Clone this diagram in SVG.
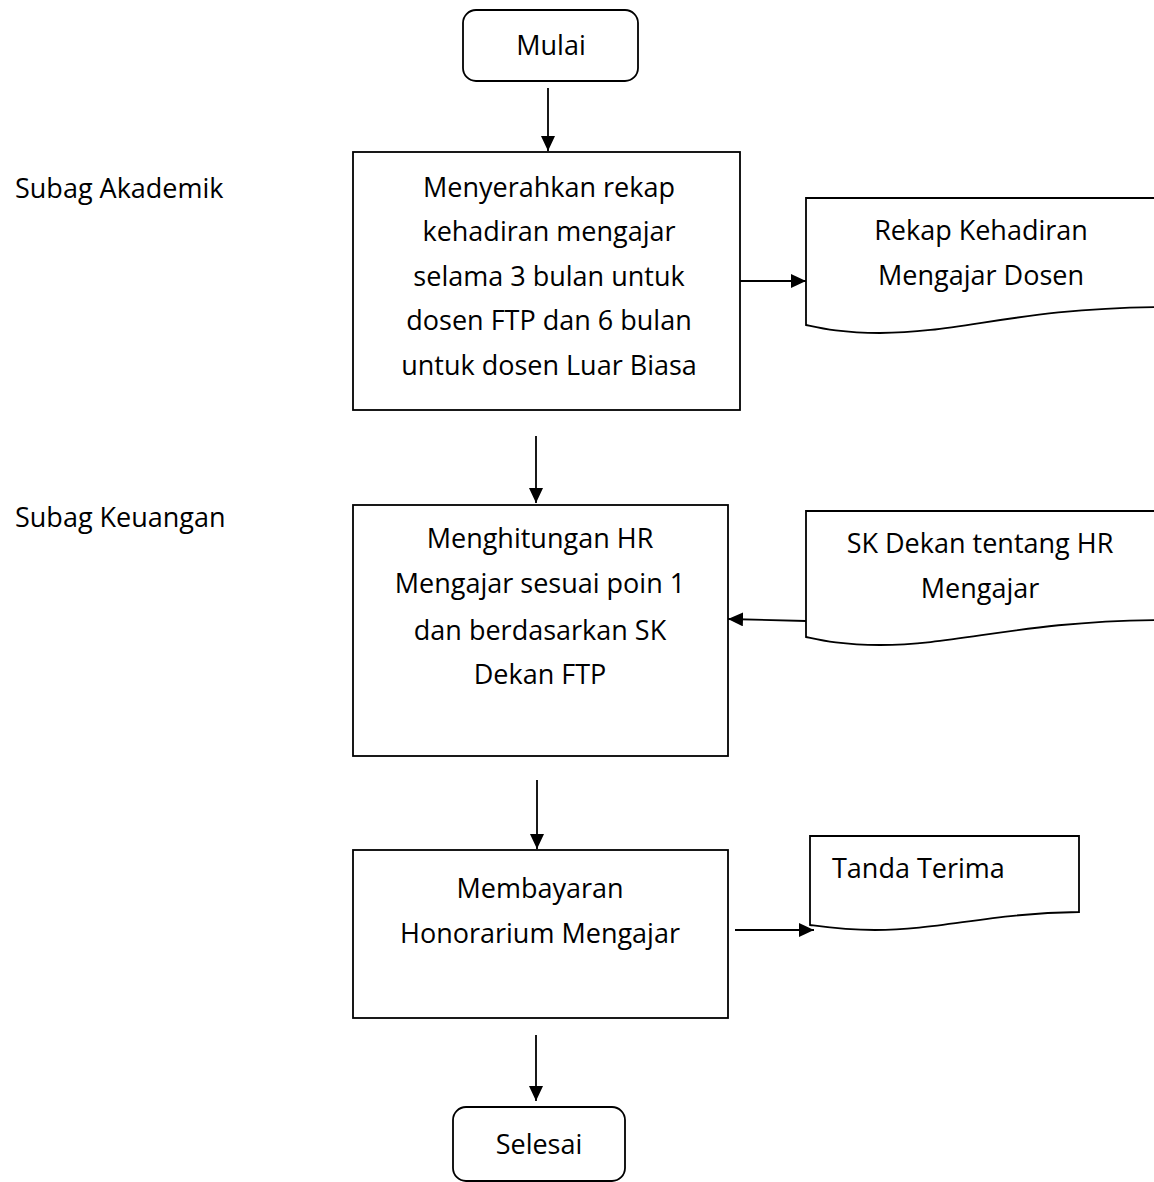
<svg xmlns="http://www.w3.org/2000/svg" width="1154" height="1182" viewBox="0 0 1154 1182">
  <style>
    .shape { fill: #ffffff; stroke: #000000; stroke-width: 1.8; }
    .line { fill: none; stroke: #000000; stroke-width: 1.8; }
    text { font-family: "Open Sans", "Noto Sans", sans-serif; font-size: 27px; fill: #000000; }
    .c { text-anchor: middle; }
  </style>
  <defs>
    <marker id="arrow" viewBox="0 0 15 14" refX="15" refY="7" markerWidth="15" markerHeight="14" markerUnits="userSpaceOnUse" orient="auto">
      <path d="M0,0 L15,7 L0,14 Z" fill="#000000"/>
    </marker>
  </defs>

  <!-- lane labels -->
  <g id="lane-akademik"><text x="15" y="198">Subag Akademik</text></g>
  <g id="lane-keuangan"><text x="15" y="527">Subag Keuangan</text></g>

  <!-- connectors -->
  <g id="connectors">
    <line class="line" x1="548" y1="88" x2="548" y2="151" marker-end="url(#arrow)"/>
    <line class="line" x1="740" y1="281" x2="806" y2="281" marker-end="url(#arrow)"/>
    <line class="line" x1="536" y1="436" x2="536" y2="503" marker-end="url(#arrow)"/>
    <line class="line" x1="806" y1="621" x2="728" y2="619" marker-end="url(#arrow)"/>
    <line class="line" x1="537" y1="780" x2="537" y2="849" marker-end="url(#arrow)"/>
    <line class="line" x1="735" y1="930" x2="814" y2="930" marker-end="url(#arrow)"/>
    <line class="line" x1="536" y1="1035" x2="536" y2="1101" marker-end="url(#arrow)"/>
  </g>

  <g id="start">
    <rect class="shape" x="463" y="10" width="175" height="71" rx="13"/>
    <text class="c" x="551" y="55">Mulai</text>
  </g>

  <g id="step-rekap">
    <rect class="shape" x="353" y="152" width="387" height="258"/>
    <text class="c" x="549" y="197">Menyerahkan rekap</text>
    <text class="c" x="549" y="241">kehadiran mengajar</text>
    <text class="c" x="549" y="286">selama 3 bulan untuk</text>
    <text class="c" x="549" y="330">dosen FTP dan 6 bulan</text>
    <text class="c" x="549" y="375">untuk dosen Luar Biasa</text>
  </g>

  <g id="doc-rekap">
    <path class="shape" d="M806,198 L1160,198 L1160,307 C1020,308 960,333 880,333 C840,333 820,328 806,325 Z"/>
    <text class="c" x="981" y="240">Rekap Kehadiran</text>
    <text class="c" x="981" y="285">Mengajar Dosen</text>
  </g>

  <g id="step-hitung">
    <rect class="shape" x="353" y="505" width="375" height="251"/>
    <text class="c" x="540" y="548">Menghitungan HR</text>
    <text class="c" x="540" y="593">Mengajar sesuai poin 1</text>
    <text class="c" x="540" y="640">dan berdasarkan SK</text>
    <text class="c" x="540" y="684">Dekan FTP</text>
  </g>

  <g id="doc-sk">
    <path class="shape" d="M806,511 L1160,511 L1160,620 C1020,621 960,645 880,645 C840,645 820,640 806,637 Z"/>
    <text class="c" x="980" y="553">SK Dekan tentang HR</text>
    <text class="c" x="980" y="598">Mengajar</text>
  </g>

  <g id="step-bayar">
    <rect class="shape" x="353" y="850" width="375" height="168"/>
    <text class="c" x="540" y="898">Membayaran</text>
    <text class="c" x="540" y="943">Honorarium Mengajar</text>
  </g>

  <g id="doc-tanda">
    <path class="shape" d="M810,836 L1079,836 L1079,912 C990,913 940,930 875,930 C845,930 825,927 810,925 Z"/>
    <text x="832" y="878">Tanda Terima</text>
  </g>

  <g id="end">
    <rect class="shape" x="453" y="1107" width="172" height="74" rx="13"/>
    <text class="c" x="539" y="1154">Selesai</text>
  </g>
</svg>
